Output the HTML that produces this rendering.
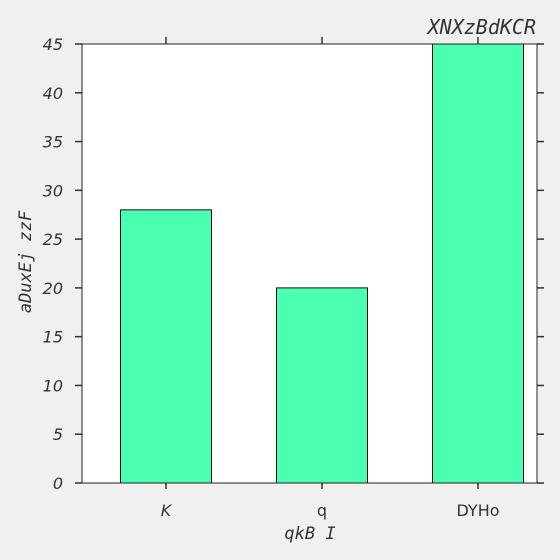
<!DOCTYPE html>
<html><head><meta charset="utf-8"><style>
html,body{margin:0;padding:0;background:#f0f0f0}
svg{display:block}
.tk{font-family:"DejaVu Sans","Liberation Sans",sans-serif;font-size:16px;fill:#333}
.mono{font-family:"DejaVu Sans Mono","Liberation Mono",monospace;font-style:italic;fill:#333}
</style></head><body>
<svg id="chart" width="560" height="560">
<rect x="0" y="0" width="560" height="560" fill="#f0f0f0"/>
<rect x="82" y="44" width="455" height="439" fill="#fff"/>
<g id="bars"></g>
<g id="axes"></g>
<rect x="82" y="44" width="455" height="439" fill="none" stroke="#222" stroke-width="1"/>
<text x="536" y="34" text-anchor="end" class="mono" font-size="20">XNXzBdKCR</text>
<text x="310" y="539" text-anchor="middle" class="mono" font-size="17">qkB I</text>
<text x="31" y="262" text-anchor="middle" class="mono" font-size="17" transform="rotate(-90 31 262)">aDuxEj zzF</text>
</svg>
<script>
const categories = ["K","q","DYHo"];
const values = [28,20,45];
const yTicks = [0,5,10,15,20,25,30,35,40,45];
const italicCats = [true,false,false];
const NS="http://www.w3.org/2000/svg";
const y = v => 483 - v*(439/45);
const xc = i => 166 + i*156;
const bw = 91;
const bars=document.getElementById('bars'), axes=document.getElementById('axes');
function mk(t,a,p){const e=document.createElementNS(NS,t);for(const k in a)e.setAttribute(k,a[k]);p.appendChild(e);return e;}
values.forEach((v,i)=>{
  const r=mk('rect',{x:xc(i)-bw/2,y:y(v),width:bw,height:483-y(v),fill:'#4bffb0',stroke:'#111','stroke-width':1},bars);
  
  
  const t1=mk('line',{x1:xc(i),x2:xc(i),y1:483,y2:489,stroke:'#333','stroke-width':1.5},axes);
  
  
  const t2=mk('line',{x1:xc(i),x2:xc(i),y1:37,y2:44,stroke:'#333','stroke-width':1.5},axes);
  
  
  const l=mk('text',{x:xc(i),y:516,'text-anchor':'middle',class:'tk','font-style':italicCats[i]?'italic':'normal'},axes);
  l.textContent=categories[i];
  
  
});
yTicks.forEach(v=>{
  const a=mk('line',{x1:75,x2:82,y1:y(v),y2:y(v),stroke:'#333','stroke-width':1.5},axes);
  
  
  const b=mk('line',{x1:537,x2:544,y1:y(v),y2:y(v),stroke:'#333','stroke-width':1.5},axes);
  
  
  const l=mk('text',{x:63,y:y(v)+6,'text-anchor':'end',class:'tk','font-style':'italic'},axes);
  l.textContent=v;
  
  
});
</script>
</body></html>
